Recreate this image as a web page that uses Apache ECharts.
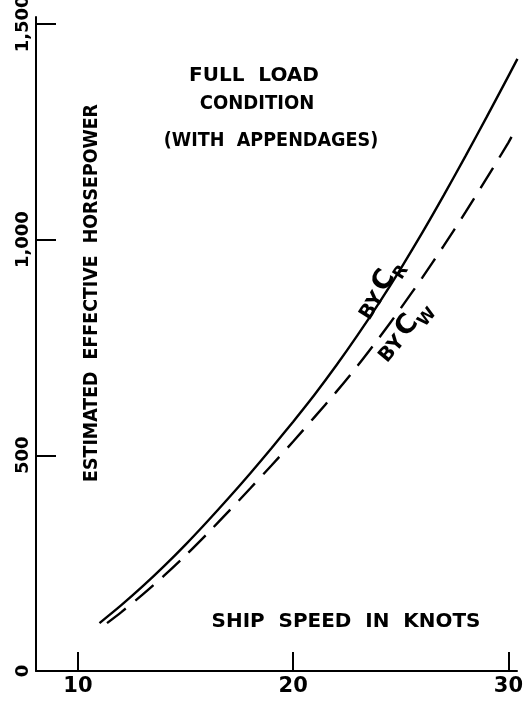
<!DOCTYPE html>
<html>
<head>
<meta charset="utf-8">
<script src="https://cdn.jsdelivr.net/npm/echarts@6/dist/echarts.min.js"></script>
<style>html,body{margin:0;padding:0;background:#fff;}#c{width:530px;height:704px;}</style>
</head>
<body>
<div id="c"></div>
<script>
// Ship speed (knots) and estimated effective horsepower
var speedCR = [11, 12, 13, 14, 15, 16, 17, 18, 19, 20, 21, 22, 23, 24, 25, 26, 27, 28, 29, 30, 30.42];
var hpCR    = [111, 152, 196, 243, 293, 346, 401, 458, 517, 578, 641, 708, 779, 854, 933, 1016, 1103, 1193, 1285, 1379, 1419];
var speedCW = [11.35, 12, 13, 14, 15, 16, 17, 18, 19, 20, 21, 22, 23, 24, 25, 26, 27, 28, 29, 30, 30.25];
var hpCW    = [111, 136, 177, 221, 268, 318, 370, 423, 477, 532, 589, 647, 708, 773, 841, 912, 986, 1063, 1143, 1225, 1248];
var xTicks = [10, 20, 30];
var yTicks = [500, 1000, 1500];
var yLabels = [0, 500, 1000, 1500];

function zip(a, b) { return a.map(function (v, i) { return [v, b[i]]; }); }
function fmt(v) { return String(v).replace(/\B(?=(\d{3})+(?!\d))/g, ','); }

var FONT = 'DejaVu Sans';
function txt(x, y, s, size, sx, rot) {
  return { type: 'text', x: x, y: y, scaleX: sx || 1, rotation: rot || 0,
    style: { text: s, fontFamily: FONT, fontSize: size, fontWeight: 'bold', fill: '#000', align: 'center', verticalAlign: 'middle' } };
}
function curveLabel(x, y, deg, sub) {
  return { type: 'text', x: x, y: y, rotation: deg * Math.PI / 180, style: {
    text: '{a|BY} {c|C}{s|' + sub + '}', align: 'center', verticalAlign: 'middle',
    rich: { a: { fontFamily: FONT, fontWeight: 'bold', fontSize: 20, fill: '#000', verticalAlign: 'bottom' },
            c: { fontFamily: FONT, fontWeight: 'bold', fontSize: 27, fill: '#000', verticalAlign: 'bottom' },
            s: { fontFamily: FONT, fontWeight: 'bold', fontSize: 17, fill: '#000', verticalAlign: 'bottom', padding: [0, 0, -5, 0] } } } };
}

var chart = echarts.init(document.getElementById('c'), null, { renderer: 'canvas' });
chart.setOption({
  animation: false,
  backgroundColor: '#fff',
  grid: { left: 36, top: 17, right: 13, bottom: 33, containLabel: false, outerBoundsMode: 'none' },
  xAxis: {
    type: 'value', min: 8.05, max: 30.4,
    axisLine: { show: true, lineStyle: { color: '#000', width: 2 } },
    axisTick: { show: true, inside: true, length: 19, lineStyle: { color: '#000', width: 2 }, customValues: xTicks },
    axisLabel: { show: true, color: '#000', fontFamily: FONT, fontWeight: 'bold', fontSize: 21, margin: 5, customValues: xTicks },
    splitLine: { show: false }
  },
  yAxis: {
    type: 'value', min: 0, max: 1516,
    axisLine: { show: true, lineStyle: { color: '#000', width: 2 } },
    axisTick: { show: true, inside: true, length: 20, lineStyle: { color: '#000', width: 2 }, customValues: yTicks },
    axisLabel: { show: true, color: '#000', fontFamily: FONT, fontWeight: 'bold', fontSize: 18, rotate: 90, margin: 4,
      customValues: yLabels, formatter: function (v) { return fmt(v); } },
    splitLine: { show: false }
  },
  series: [
    { type: 'line', name: 'BY CR', data: zip(speedCR, hpCR), smooth: 0.3, showSymbol: false, symbol: 'none',
      lineStyle: { color: '#000', width: 2.4 } },
    { type: 'line', name: 'BY CW', data: zip(speedCW, hpCW), smooth: 0.3, showSymbol: false, symbol: 'none',
      lineStyle: { color: '#000', width: 2.4, type: [24, 12] } }
  ],
  graphic: [
    txt(254, 76, 'FULL  LOAD', 20, 1.0),
    txt(257, 104, 'CONDITION', 20, 0.9),
    txt(271, 141, '(WITH  APPENDAGES)', 20, 0.88),
    txt(346, 622, 'SHIP  SPEED  IN  KNOTS', 19, 1.05),
    txt(92, 293, 'ESTIMATED  EFFECTIVE  HORSEPOWER', 20, 0.87, Math.PI / 2),
    curveLabel(379, 289, 58, 'R'),
    curveLabel(403, 331, 50, 'W')
  ]
});
</script>
</body>
</html>
